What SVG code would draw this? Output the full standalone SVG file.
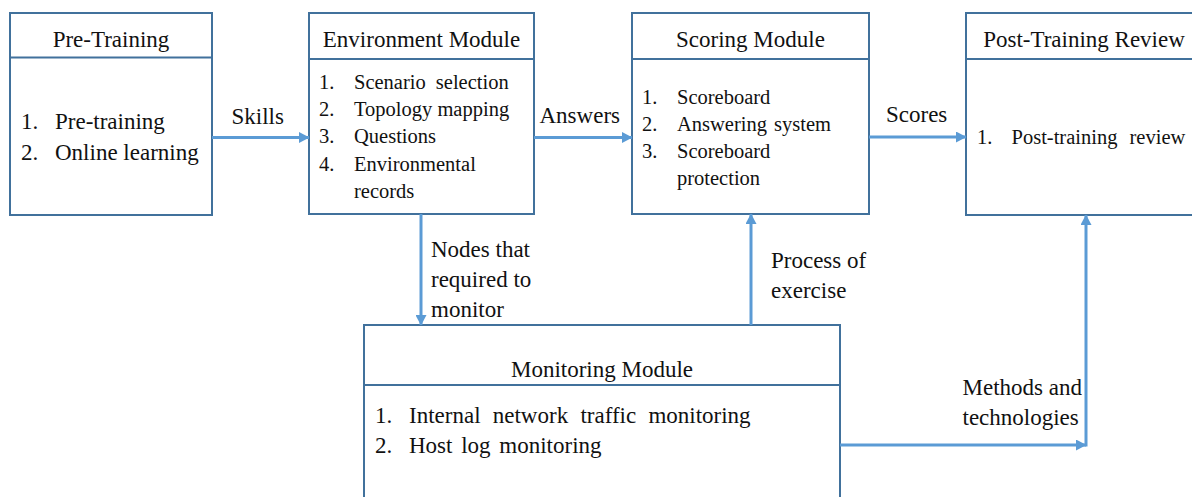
<svg xmlns="http://www.w3.org/2000/svg" width="1192" height="497" viewBox="0 0 1192 497" font-family="'Liberation Serif', 'Times New Roman', Times, serif">
<style>
.box{fill:#fff;stroke:#41719C;stroke-width:2}
.div{stroke:#41719C;stroke-width:2;fill:none}
.conn{stroke:#5B9BD5;stroke-width:3;fill:none}
text{fill:#111}
.h{font-size:23px;text-anchor:middle}
.l23{font-size:23px}
.l20{font-size:20.5px}
</style>
<defs>
<marker id="ah" markerUnits="userSpaceOnUse" markerWidth="11" markerHeight="11" refX="10" refY="5.5" orient="auto" viewBox="0 0 11 11">
<path d="M0,0 L10.5,5.5 L0,11 z" fill="#5B9BD5"/>
</marker>
</defs>
<rect width="1192" height="497" fill="#fff"/>

<g id="pre-training">
<rect class="box" x="10" y="13" width="202" height="202"/>
<line class="div" x1="10" y1="57.5" x2="212" y2="57.5"/>
<text class="h" x="111" y="47">Pre-Training</text>
<text class="l23" x="21" y="129">1.</text>
<text class="l23" x="55" y="129">Pre-training</text>
<text class="l23" x="21" y="160">2.</text>
<text class="l23" x="55" y="160">Online learning</text>
</g>

<g id="environment">
<rect class="box" x="309" y="13" width="225" height="201"/>
<line class="div" x1="309" y1="59" x2="534" y2="59"/>
<text class="h" x="421.5" y="47">Environment Module</text>
<text class="l20" x="319" y="89">1.</text>
<text class="l20" x="354" y="89" word-spacing="5">Scenario selection</text>
<text class="l20" x="319" y="116">2.</text>
<text class="l20" x="354" y="116">Topology mapping</text>
<text class="l20" x="319" y="143">3.</text>
<text class="l20" x="354" y="143">Questions</text>
<text class="l20" x="319" y="171">4.</text>
<text class="l20" x="354" y="171">Environmental</text>
<text class="l20" x="354" y="198">records</text>
</g>

<g id="scoring">
<rect class="box" x="632" y="13" width="237" height="201"/>
<line class="div" x1="632" y1="59" x2="869" y2="59"/>
<text class="h" x="750.5" y="47">Scoring Module</text>
<text class="l20" x="642" y="104">1.</text>
<text class="l20" x="677" y="104">Scoreboard</text>
<text class="l20" x="642" y="131">2.</text>
<text class="l20" x="677" y="131" word-spacing="2">Answering system</text>
<text class="l20" x="642" y="158">3.</text>
<text class="l20" x="677" y="158">Scoreboard</text>
<text class="l20" x="677" y="185">protection</text>
</g>

<g id="post-training">
<rect class="box" x="966" y="13" width="236" height="202"/>
<line class="div" x1="966" y1="59" x2="1202" y2="59"/>
<text class="h" x="1084" y="47">Post-Training Review</text>
<text class="l20" x="977" y="144">1.</text>
<text class="l20" x="1011.5" y="144" word-spacing="7">Post-training review</text>
</g>

<g id="monitoring">
<rect class="box" x="364" y="325" width="476" height="190"/>
<line class="div" x1="364" y1="385" x2="840" y2="385"/>
<text class="h" x="602" y="377">Monitoring Module</text>
<text class="l23" x="375" y="423">1.</text>
<text class="l23" x="409" y="423" word-spacing="6.5">Internal network traffic monitoring</text>
<text class="l23" x="375" y="453">2.</text>
<text class="l23" x="409" y="453" word-spacing="3">Host log monitoring</text>
</g>

<g id="connectors">
<line class="conn" x1="212" y1="137.5" x2="309" y2="137.5" marker-end="url(#ah)"/>
<line class="conn" x1="534" y1="137.5" x2="632" y2="137.5" marker-end="url(#ah)"/>
<line class="conn" x1="869" y1="137" x2="966" y2="137" marker-end="url(#ah)"/>
<line class="conn" x1="421" y1="214" x2="421" y2="325" marker-end="url(#ah)"/>
<line class="conn" x1="751" y1="325" x2="751" y2="214" marker-end="url(#ah)"/>
<line class="conn" x1="840" y1="445" x2="1086" y2="445" marker-end="url(#ah)"/>
<line class="conn" x1="1086" y1="446.5" x2="1086" y2="215" marker-end="url(#ah)"/>
<text class="l23" x="231.5" y="124">Skills</text>
<text class="l23" x="539.5" y="123">Answers</text>
<text class="l23" x="886" y="122">Scores</text>
<text class="l23" x="431" y="257">Nodes that</text>
<text class="l23" x="431" y="287">required to</text>
<text class="l23" x="431" y="317">monitor</text>
<text class="l23" x="771" y="268">Process of</text>
<text class="l23" x="771" y="298">exercise</text>
<text class="l23" x="962.5" y="395">Methods and</text>
<text class="l23" x="962.5" y="425">technologies</text>
</g>
</svg>
